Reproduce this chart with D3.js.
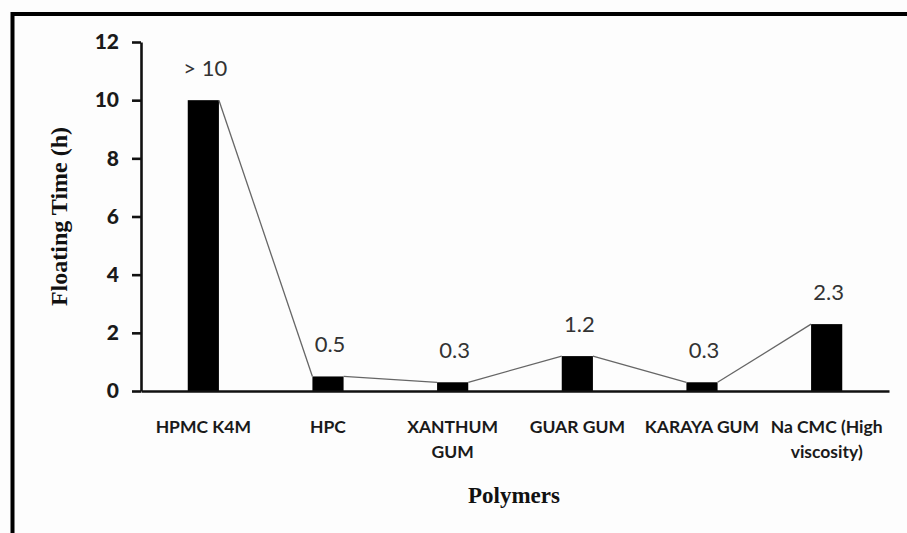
<!DOCTYPE html>
<html>
<head>
<meta charset="utf-8">
<script src="https://cdn.jsdelivr.net/npm/d3@7"></script>
<style>
  html, body { margin: 0; padding: 0; background: #fdfdfd; }
  svg { display: block; }
</style>
</head>
<body>
<svg id="chart" width="907" height="533"></svg>
<script>
// Floating time of tablets prepared with different polymers
const categories = ["HPMC K4M", "HPC", "XANTHUM GUM", "GUAR GUM", "KARAYA GUM", "Na CMC (High viscosity)"];
const categoryLines = [["HPMC K4M"], ["HPC"], ["XANTHUM", "GUM"], ["GUAR GUM"], ["KARAYA GUM"], ["Na CMC (High", "viscosity)"]];
const floatingTime = [10, 0.5, 0.3, 1.2, 0.3, 2.3];
const valueLabels = ["> 10", "0.5", "0.3", "1.2", "0.3", "2.3"];
const yTicks = [0, 2, 4, 6, 8, 10, 12];

const svg = d3.select("#chart");
const W = 907, H = 533;

const plot = { left: 141, right: 889, top: 42, bottom: 391 };

const x = d3.scaleBand().domain(categories).range([plot.left, plot.right]).padding(0);
const y = d3.scaleLinear().domain([0, 12]).range([plot.bottom, plot.top]);
const barW = x.bandwidth() * 0.25;

// Outer frame
svg.append("rect")
  .attr("x", 12.5).attr("y", 14)
  .attr("width", W + 20).attr("height", H + 20)
  .attr("fill", "none").attr("stroke", "#000").attr("stroke-width", 4);

const textFont = "Lato, 'Open Sans', sans-serif";

// Y axis
const yAxis = svg.append("g")
  .attr("transform", `translate(${plot.left},0)`)
  .call(d3.axisLeft(y).tickValues(yTicks).tickSize(9).tickSizeOuter(0).tickPadding(13));
yAxis.select(".domain").attr("stroke", "#111").attr("stroke-width", 2.6);
yAxis.selectAll(".tick line").attr("stroke", "#111").attr("stroke-width", 2.6);
yAxis.selectAll(".tick text")
  .attr("font-family", textFont).attr("font-weight", "900")
  .attr("font-size", 21).attr("fill", "#1a1a1a");

// Bars
svg.append("g").selectAll("rect")
  .data(floatingTime)
  .join("rect")
  .attr("x", (d, i) => x(categories[i]) + (x.bandwidth() - barW) / 2)
  .attr("y", d => y(d))
  .attr("width", barW)
  .attr("height", d => y(0) - y(d))
  .attr("fill", "#000");

// Series lines joining the top corners of neighbouring bars
const seriesSegments = d3.pairs(floatingTime.map((d, i) => ({ v: d, c: categories[i] })));
svg.append("g").selectAll("line")
  .data(seriesSegments)
  .join("line")
  .attr("x1", ([a]) => x(a.c) + (x.bandwidth() + barW) / 2)
  .attr("y1", ([a]) => y(a.v))
  .attr("x2", ([, b]) => x(b.c) + (x.bandwidth() - barW) / 2)
  .attr("y2", ([, b]) => y(b.v))
  .attr("stroke", "#666").attr("stroke-width", 1.3);

// X axis
const xAxis = svg.append("g")
  .attr("transform", `translate(0,${plot.bottom})`)
  .call(d3.axisBottom(x).tickSize(0).tickSizeOuter(0).tickFormat(""));
xAxis.select(".domain").attr("stroke", "#111").attr("stroke-width", 2.6);

// Category labels
svg.append("g").selectAll("text")
  .data(categories)
  .join("text")
  .attr("x", d => x(d) + x.bandwidth() / 2)
  .attr("y", 433)
  .attr("text-anchor", "middle")
  .attr("font-family", textFont).attr("font-weight", "bold")
  .attr("font-size", 17.5).attr("fill", "#1a1a1a")
  .each(function (d, i) {
    d3.select(this).selectAll("tspan")
      .data(categoryLines[i])
      .join("tspan")
      .attr("x", x(d) + x.bandwidth() / 2)
      .attr("dy", (t, j) => j === 0 ? 0 : 25)
      .text(t => t);
  });

// Value labels
svg.append("g").selectAll("text")
  .data(floatingTime)
  .join("text")
  .attr("x", (d, i) => x(categories[i]) + x.bandwidth() / 2 + 2)
  .attr("y", d => y(d) - 24)
  .attr("text-anchor", "middle")
  .attr("font-family", textFont)
  .attr("font-size", 22).attr("fill", "#333")
  .text((d, i) => valueLabels[i]);

// Axis titles
svg.append("text")
  .attr("transform", `translate(67,${(125 + 308) / 2}) rotate(-90)`)
  .attr("text-anchor", "middle")
  .attr("font-family", "'Liberation Serif', 'Times New Roman', serif")
  .attr("font-weight", "bold").attr("font-size", 24).attr("fill", "#111")
  .text("Floating Time (h)");

svg.append("text")
  .attr("x", 514).attr("y", 503)
  .attr("text-anchor", "middle")
  .attr("font-family", "'Liberation Serif', 'Times New Roman', serif")
  .attr("font-weight", "bold").attr("font-size", 23).attr("fill", "#111")
  .text("Polymers");
</script>
</body>
</html>
